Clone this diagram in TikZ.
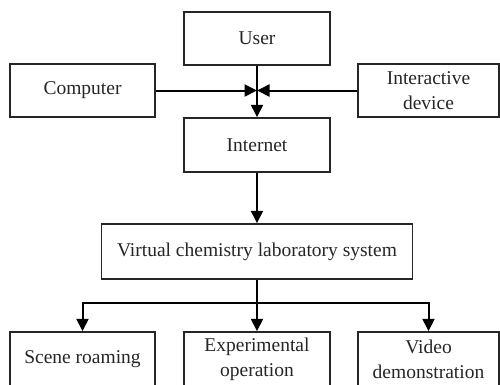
\documentclass[tikz,border=0pt]{standalone}
\usepackage{fontspec}
\setmainfont{Liberation Serif}
\usetikzlibrary{arrows.meta}
\begin{document}
\begin{tikzpicture}[x=1pt,y=-1pt,
  box/.style={draw=black!85,line width=1.5pt,inner sep=0pt,align=center,
    font=\fontsize{19.5}{25}\selectfont,text=black!85},
  conn/.style={draw=black,line width=2pt,-{Triangle[length=12.5pt,width=12pt]}},
  plain/.style={draw=black,line width=2pt}]
\clip (0,0) rectangle (500,384);
\fill[white] (0,0) rectangle (500,384);
\node[box,minimum width=146pt,minimum height=53pt] (user) at (257,38.5) {User};
\node[box,minimum width=145pt,minimum height=53pt] (comp) at (82.5,90.5) {Computer};
\node[box,minimum width=141pt,minimum height=53pt] (inter) at (428.5,90.5) {Interactive\\device};
\node[box,minimum width=146pt,minimum height=54pt] (net) at (257,145) {Internet};
\node[box,minimum width=311pt,minimum height=55pt] (vcls) at (257,251.5) {Virtual chemistry laboratory system};
\node[box,minimum width=145pt,minimum height=54pt] (scene) at (82.5,359) {Scene roaming};
\node[box,minimum width=146pt,minimum height=54pt] (exp) at (257,359) {Experimental\\operation};
\node[box,minimum width=141pt,minimum height=54pt] (video) at (428.5,359) {Video\\demonstration};
\coordinate (j) at (257,90.5);
\coordinate (b) at (257,303);
\draw[conn] (user.south) -- (net.north);
\draw[conn] (comp.east) -- (j);
\draw[conn] (inter.west) -- (j);
\draw[conn] (net.south) -- (vcls.north);
\draw[plain] (vcls.south) -- (b);
\draw[conn] (b) -| (scene.north);
\draw[conn] (b) -- (exp.north);
\draw[conn] (b) -| (video.north);
\end{tikzpicture}
\end{document}
